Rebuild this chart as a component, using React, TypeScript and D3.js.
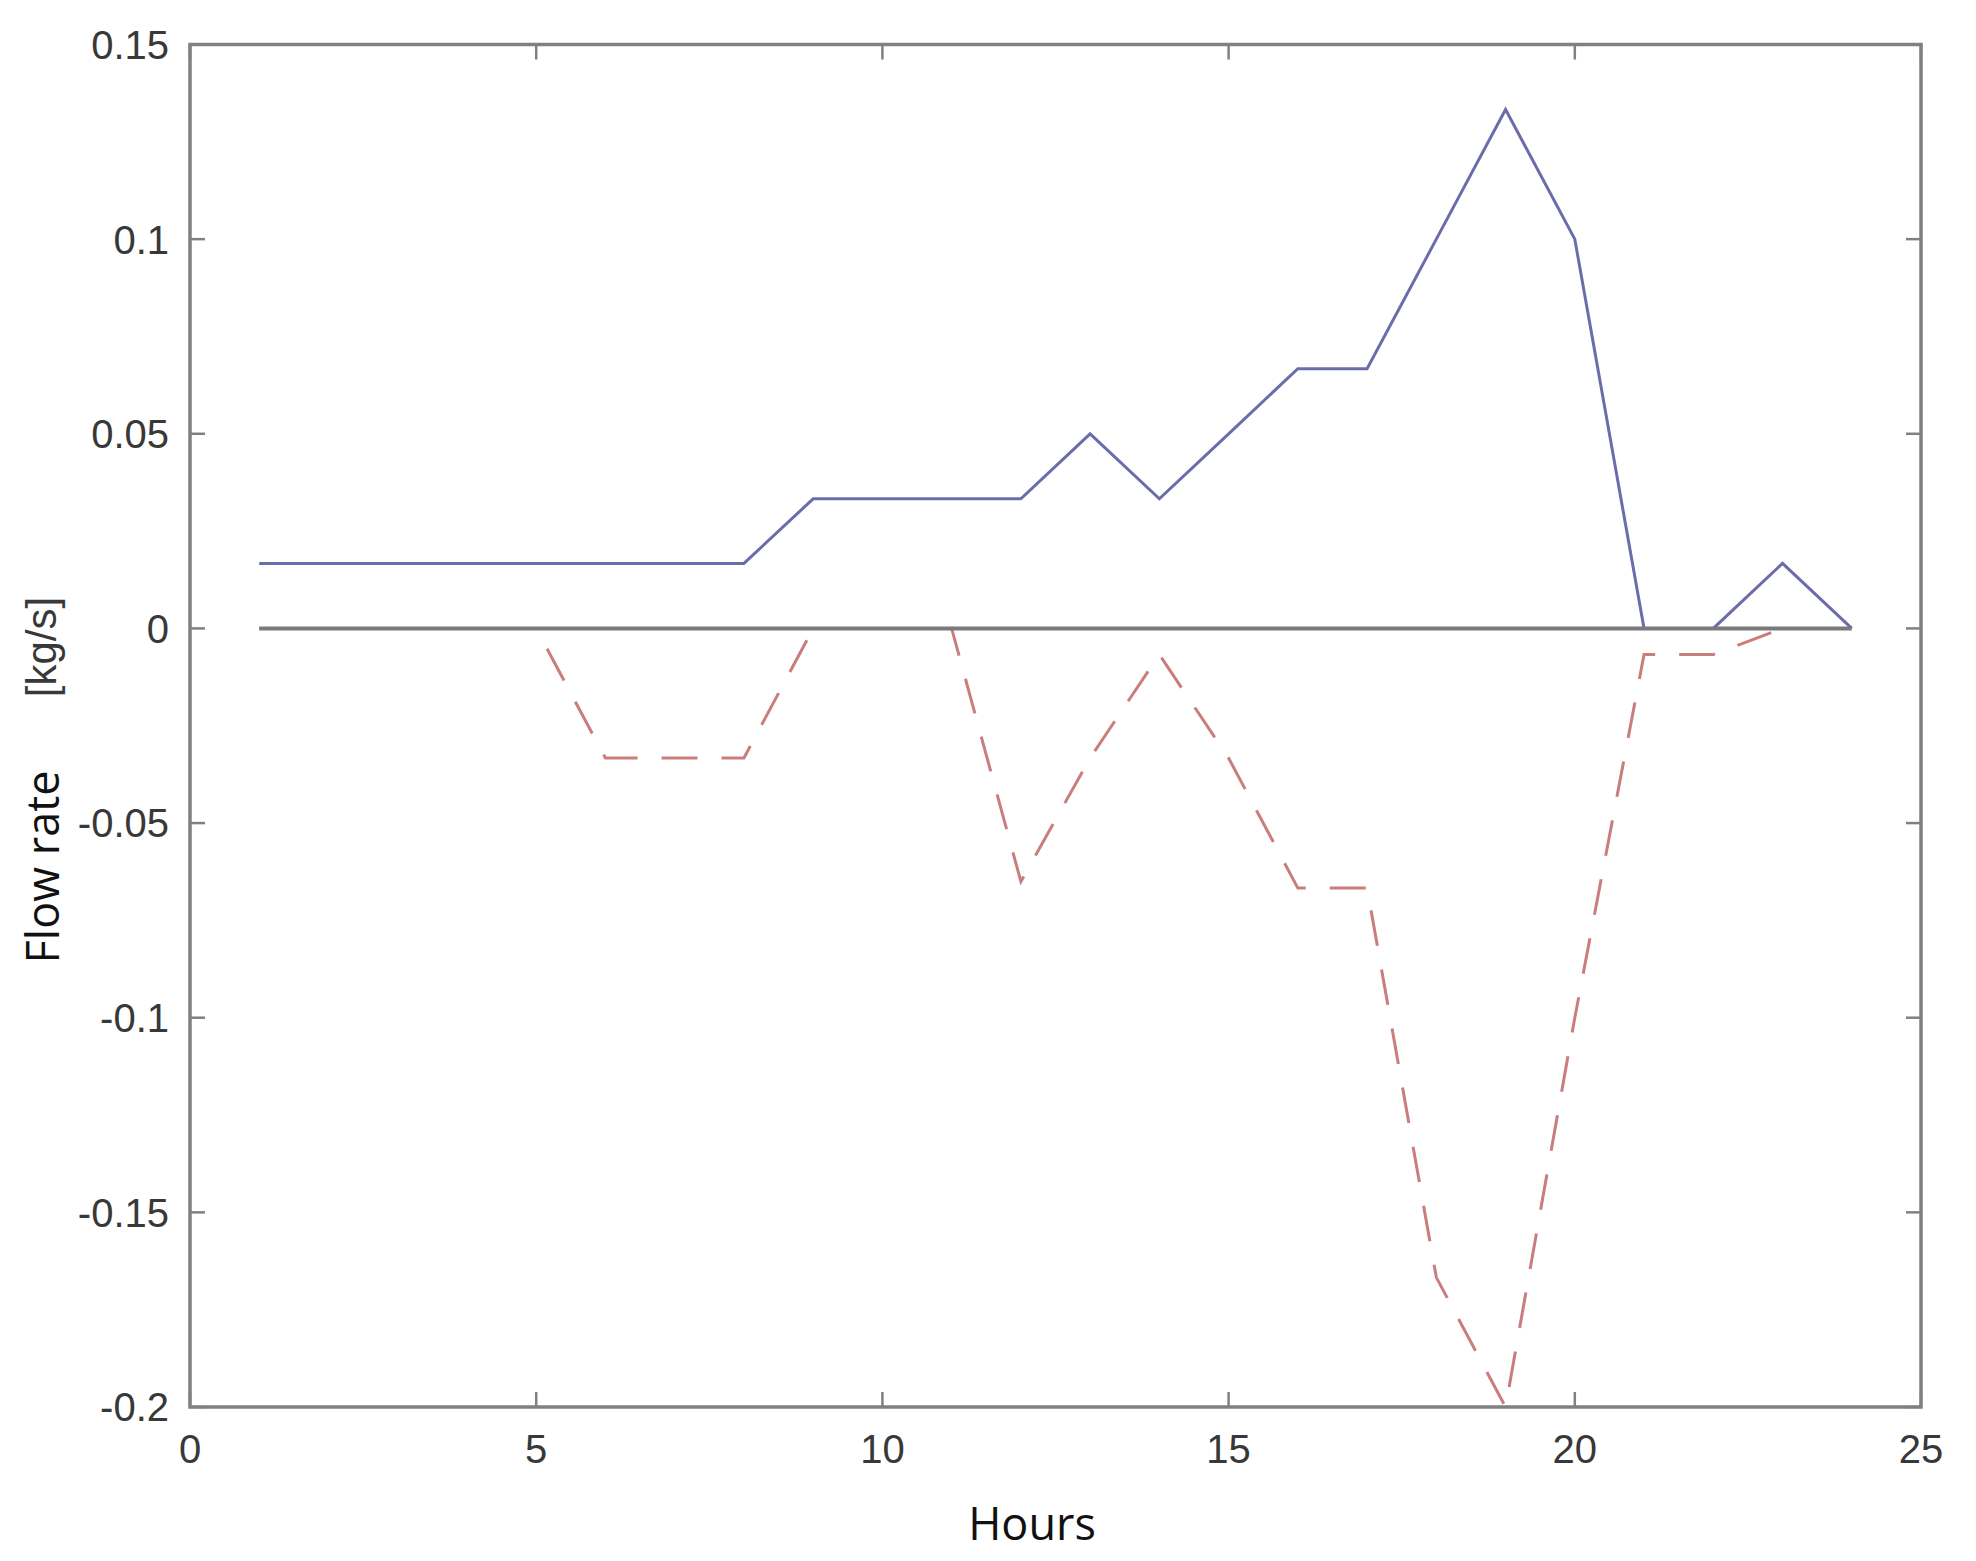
import * as d3 from "d3";

// hours on the x axis
const hours = [1, 2, 3, 4, 5, 6, 7, 8, 9, 10, 11, 12, 13, 14, 15, 16, 17, 18, 19, 20, 21, 22, 23, 24];

// solid blue series (kg/s)
const supply = [
  0.0167, 0.0167, 0.0167, 0.0167, 0.0167, 0.0167, 0.0167, 0.0167,
  0.0333, 0.0333, 0.0333, 0.0333, 0.05, 0.0333, 0.05, 0.0667,
  0.0667, 0.1, 0.1333, 0.1, 0, 0, 0.0167, 0,
];

// dashed red series (kg/s)
const demand = [
  0, 0, 0, 0, 0, -0.0333, -0.0333, -0.0333,
  0, 0, 0, -0.065, -0.0333, -0.0067, -0.0333, -0.0667,
  -0.0667, -0.1667, -0.2, -0.1, -0.0067, -0.0067, 0, 0,
];

// flat reference line at zero
const baseline = hours.map(() => 0);

const xTicks = [0, 5, 10, 15, 20, 25];
const yTicks = [0.15, 0.1, 0.05, 0, -0.05, -0.1, -0.15, -0.2];

const W = 1976;
const H = 1561;
const left = 190;
const right = 1921;
const top = 44.5;
const bottom = 1407;

export default function App() {
  const x = d3.scaleLinear().domain([0, 25]).range([left, right]);
  const y = d3.scaleLinear().domain([-0.2, 0.15]).range([bottom, top]);

  const line = d3
    .line<number>()
    .x((_, i) => x(hours[i]))
    .y((v) => y(v));

  const tickLen = 15;
  const axisColor = "#808080";
  const tickFont = "'Liberation Sans', Arial, sans-serif";

  return (
    <svg
      width={W}
      height={H}
      style={{ position: "absolute", left: 0, top: 0, background: "#fff" }}
    >
      {/* series */}
      <path d={line(supply) ?? ""} fill="none" stroke="#6b6dab" strokeWidth={3} />
      <path
        d={line(demand) ?? ""}
        fill="none"
        stroke="#c97d7d"
        strokeWidth={3}
        strokeDasharray="36,24"
      />
      <path d={line(baseline) ?? ""} fill="none" stroke="#7a7a7a" strokeWidth={4} />

      {/* box */}
      <rect
        x={left}
        y={top}
        width={right - left}
        height={bottom - top}
        fill="none"
        stroke={axisColor}
        strokeWidth={3.5}
      />

      {/* x ticks, bottom and top */}
      {xTicks.map((t) => (
        <g key={"x" + t}>
          <line x1={x(t)} x2={x(t)} y1={bottom} y2={bottom - tickLen} stroke={axisColor} strokeWidth={2.5} />
          <line x1={x(t)} x2={x(t)} y1={top} y2={top + tickLen} stroke={axisColor} strokeWidth={2.5} />
          <text
            x={x(t)}
            y={1463}
            textAnchor="middle"
            fontFamily={tickFont}
            fontSize={40}
            fill="#383838"
          >
            {t}
          </text>
        </g>
      ))}

      {/* y ticks, left and right */}
      {yTicks.map((t) => (
        <g key={"y" + t}>
          <line x1={left} x2={left + tickLen} y1={y(t)} y2={y(t)} stroke={axisColor} strokeWidth={2.5} />
          <line x1={right} x2={right - tickLen} y1={y(t)} y2={y(t)} stroke={axisColor} strokeWidth={2.5} />
          <text
            x={169}
            y={y(t)}
            dy="0.36em"
            textAnchor="end"
            fontFamily={tickFont}
            fontSize={40}
            fill="#383838"
          >
            {String(t)}
          </text>
        </g>
      ))}

      {/* axis labels */}
      <text
        x={1032}
        y={1540}
        textAnchor="middle"
        fontFamily="'Open Sans', sans-serif"
        fontSize={45}
        fill="#111"
      >
        Hours
      </text>
      <text
        transform="translate(59,867) rotate(-90)"
        textAnchor="middle"
        fontFamily="'Open Sans', sans-serif"
        fontSize={45}
        fill="#111"
      >
        Flow rate
      </text>
      <text
        transform="translate(56,647) rotate(-90)"
        textAnchor="middle"
        fontFamily={tickFont}
        fontSize={42}
        fill="#383838"
      >
        [kg/s]
      </text>
    </svg>
  );
}
